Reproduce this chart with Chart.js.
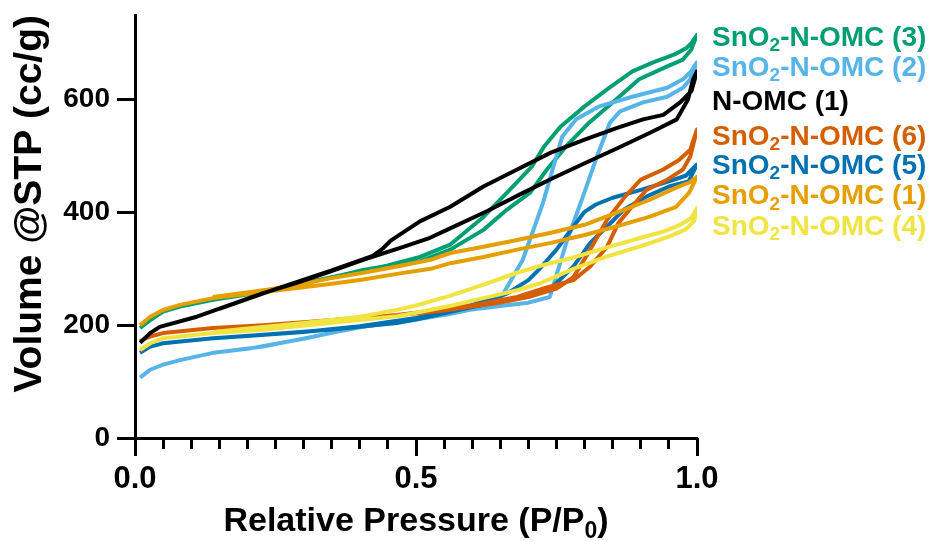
<!DOCTYPE html>
<html>
<head>
<meta charset="utf-8">
<script src="https://cdn.jsdelivr.net/npm/chart.js@4.4.1/dist/chart.umd.min.js"></script>
<style>
  html, body { margin: 0; padding: 0; background: #fff; }
  canvas { display: block; }
</style>
</head>
<body>
<canvas id="iso" width="933" height="541"></canvas>
<script>
// N2 isotherms, adsorption branch (low -> high P/P0) then desorption branch (back down)
var omc1AdsP = [0.009,0.027,0.044,0.11,0.169,0.228,0.288,0.347,0.406,0.472,0.525,0.555,0.626,0.685,0.744,0.804,0.863,0.922,0.964,0.984,0.993,1.0];
var omc1AdsV = [169,186,197,215,236,257,275,295,316,337,355,369,402,432,461,489,516,544,565,600,636,650];
var omc1DesP = [0.99,0.97,0.94,0.904,0.858,0.8,0.74,0.68,0.62,0.561,0.507,0.484,0.455,0.441,0.423,0.35,0.25,0.15];
var omc1DesV = [615,595,573,565,550,529,506,476,446,410,384,369,350,336,323,297,264,229];

var sn3AdsP = [0.009,0.027,0.05,0.08,0.139,0.228,0.288,0.347,0.406,0.466,0.507,0.561,0.62,0.662,0.703,0.733,0.767,0.808,0.856,0.897,0.947,0.975,0.99,1.0];
var sn3AdsV = [195,209,224,233,245,259,272,284,298,308,313,334,369,405,435,476,517,559,600,636,659,671,689,715];
var sn3DesP = [0.99,0.982,0.96,0.922,0.885,0.84,0.8,0.757,0.728,0.706,0.662,0.62,0.561,0.507,0.45,0.35,0.25,0.15];
var sn3DesV = [700,692,680,666,650,618,588,552,517,481,435,392,343,321,306,285,264,247];

var sn2AdsP = [0.009,0.027,0.05,0.08,0.139,0.228,0.288,0.347,0.406,0.466,0.5,0.56,0.6,0.65,0.7,0.738,0.769,0.797,0.822,0.845,0.863,0.904,0.947,0.975,0.988,1.0];
var sn2AdsV = [107,121,130,138,151,162,174,186,197,206,210,220,228,234,240,250,351,428,499,559,579,595,605,621,636,666];
var sn2DesP = [0.988,0.975,0.947,0.885,0.826,0.785,0.76,0.743,0.726,0.69,0.649,0.62,0.56,0.5,0.4,0.3,0.2,0.14];
var sn2DesV = [648,636,621,605,588,565,534,476,417,316,245,233,221,211,197,176,158,151];

var sn6AdsP = [0.009,0.027,0.05,0.139,0.228,0.347,0.466,0.5,0.6,0.68,0.73,0.78,0.81,0.84,0.86,0.884,0.91,0.947,0.975,0.988,1.0];
var sn6AdsV = [172,180,186,195,200,209,218,222,235,250,266,280,304,339,381,410,440,458,476,499,547];
var sn6DesP = [0.988,0.968,0.94,0.9,0.872,0.84,0.81,0.78,0.75,0.7,0.65,0.55,0.45,0.35,0.25,0.14];
var sn6DesV = [511,493,476,458,428,387,334,285,265,250,240,226,216,209,200,195];

var sn5AdsP = [0.009,0.027,0.05,0.139,0.228,0.347,0.466,0.5,0.6,0.7,0.74,0.78,0.81,0.84,0.87,0.91,0.95,0.985,1.0];
var sn5AdsV = [151,162,168,177,183,192,204,210,232,252,265,304,346,375,405,428,446,455,485];
var sn5DesP = [0.98,0.94,0.9,0.85,0.82,0.8,0.78,0.75,0.72,0.7,0.66,0.6,0.5,0.4,0.3,0.2,0.14];
var sn5DesV = [465,452,440,426,414,401,375,334,300,280,255,236,213,198,188,181,177];

var sn1AdsP = [0.009,0.027,0.05,0.08,0.139,0.228,0.288,0.347,0.406,0.466,0.526,0.561,0.62,0.68,0.74,0.8,0.856,0.915,0.963,0.986,1.0];
var sn1AdsV = [200,215,227,236,248,259,266,273,281,291,300,310,321,334,346,360,375,392,410,435,463];
var sn1DesP = [0.986,0.963,0.915,0.856,0.8,0.74,0.68,0.62,0.561,0.526,0.466,0.406,0.347,0.288,0.228,0.139];
var sn1DesV = [453,444,422,399,378,364,351,339,328,316,304,293,283,271,262,250];

var sn4AdsP = [0.009,0.027,0.05,0.139,0.228,0.347,0.466,0.5,0.56,0.62,0.68,0.72,0.78,0.84,0.9,0.95,0.98,0.995,1.0];
var sn4AdsV = [156,168,177,186,192,204,216,222,234,248,262,274,300,322,340,357,370,385,408];
var sn4DesP = [0.99,0.97,0.94,0.9,0.84,0.78,0.72,0.68,0.62,0.56,0.5,0.47,0.4,0.3,0.2,0.14];
var sn4DesV = [390,378,366,355,338,320,305,293,272,252,235,228,215,204,194,188];

// labels on the right, top to bottom, with the volume they sit at
var seriesNames = ['SnO2-N-OMC (3)','SnO2-N-OMC (2)','N-OMC (1)','SnO2-N-OMC (6)','SnO2-N-OMC (5)','SnO2-N-OMC (1)','SnO2-N-OMC (4)'];
var seriesColors = ['#009E73','#56B4E9','#000000','#D55E00','#0072B2','#E69F00','#F0E442'];
var labelAt = [709,656,596,534,482,428,374];

var xTicks = [0, 0.5, 1.0];
var xMinor = [0.05,0.1,0.15,0.2,0.25,0.3,0.35,0.4,0.45,0.55,0.6,0.65,0.7,0.75,0.8,0.85,0.9,0.95];
var yTicks = [0, 200, 400, 600];

var FONT = "'Liberation Sans', Arial, Helvetica, sans-serif";

function loop(aP, aV, dP, dV) {
    var pts = [];
    var p = aP.concat(dP), v = aV.concat(dV);
    for (var i = 0; i < p.length; i++) {
        pts.push({x: p[i], y: v[i]});
    }
    return pts;
}

var loops = [
    loop(sn3AdsP, sn3AdsV, sn3DesP, sn3DesV),
    loop(sn2AdsP, sn2AdsV, sn2DesP, sn2DesV),
    loop(omc1AdsP, omc1AdsV, omc1DesP, omc1DesV),
    loop(sn6AdsP, sn6AdsV, sn6DesP, sn6DesV),
    loop(sn5AdsP, sn5AdsV, sn5DesP, sn5DesV),
    loop(sn1AdsP, sn1AdsV, sn1DesP, sn1DesV),
    loop(sn4AdsP, sn4AdsV, sn4DesP, sn4DesV)
];
// draw order: lower = drawn later (on top)
var drawOrder = [6, 5, 0, 3, 4, 1, 2];

var datasets = loops.map(function (pts, i) {
    return {
        label: seriesNames[i],
        data: pts,
        showLine: true,
        borderColor: seriesColors[i],
        backgroundColor: seriesColors[i],
        borderWidth: 4,
        borderJoinStyle: 'round',
        pointRadius: 0,
        tension: 0,
        fill: false,
        order: drawOrder[i]
    };
});

// text with a subscript part: [normal, sub, normal]
function drawParts(ctx, parts, x, y, size, subSize, drop) {
    parts.forEach(function (s, j) {
        var sub = (parts.length === 3 && j === 1);
        ctx.font = 'bold ' + (sub ? subSize : size) + 'px ' + FONT;
        ctx.fillText(s, x, sub ? y + drop : y);
        x += ctx.measureText(s).width;
    });
}

function partsWidth(ctx, parts, size, subSize) {
    var w = 0;
    parts.forEach(function (s, j) {
        var sub = (parts.length === 3 && j === 1);
        ctx.font = 'bold ' + (sub ? subSize : size) + 'px ' + FONT;
        w += ctx.measureText(s).width;
    });
    return w;
}

var sideLabels = {
    id: 'sideLabels',
    afterDraw: function (chart) {
        var ctx = chart.ctx;
        var y = chart.scales.y;
        var x0 = chart.chartArea.right + 15;
        ctx.save();
        ctx.textBaseline = 'middle';
        ctx.textAlign = 'left';
        seriesNames.forEach(function (name, i) {
            var py = y.getPixelForValue(labelAt[i]);
            var k = name.indexOf('O2');
            var parts = k < 0 ? [name] : [name.slice(0, k + 1), '2', name.slice(k + 2)];
            ctx.fillStyle = seriesColors[i];
            drawParts(ctx, parts, x0, py, 28, 19, 8);
        });
        ctx.restore();
    }
};

// x title with subscript, ticks (major + minor) as filled bars
var axisExtras = {
    id: 'axisExtras',
    afterDraw: function (chart) {
        var ctx = chart.ctx;
        var xs = chart.scales.x, ys = chart.scales.y;
        var a = chart.chartArea;
        ctx.save();
        ctx.fillStyle = '#000';
        xTicks.forEach(function (v) {
            var px = xs.getPixelForValue(v);
            ctx.fillRect(Math.round(px - 1.5), a.bottom, 3, 18);
        });
        xMinor.forEach(function (v) {
            var px = xs.getPixelForValue(v);
            ctx.fillRect(Math.round(px - 1.5), a.bottom, 3, 11);
        });
        yTicks.forEach(function (v) {
            var py = ys.getPixelForValue(v);
            ctx.fillRect(a.left - 18, Math.round(py - 1.5), 18, 3);
        });

        var parts = ['Relative Pressure (P/P', '0', ')'];
        var w = partsWidth(ctx, parts, 34, 23);
        ctx.textBaseline = 'alphabetic';
        ctx.textAlign = 'left';
        drawParts(ctx, parts, (a.left + a.right) / 2 - w / 2, 531, 34, 23, 7);
        ctx.restore();
    }
};

Chart.defaults.font.family = FONT;
Chart.defaults.color = '#000';

new Chart(document.getElementById('iso'), {
    type: 'scatter',
    data: { datasets: datasets },
    options: {
        responsive: false,
        animation: false,
        devicePixelRatio: 1,
        layout: { padding: { top: 15, right: 236, left: 0, bottom: 0 } },
        plugins: {
            legend: { display: false },
            tooltip: { enabled: false }
        },
        scales: {
            x: {
                type: 'linear',
                min: 0,
                max: 1,
                afterFit: function (s) {
                    s.height = 103;
                    s.paddingLeft = 0;
                    s.paddingRight = 0;
                },
                afterBuildTicks: function (s) {
                    s.ticks = xTicks.map(function (v) { return {value: v}; });
                },
                ticks: {
                    padding: 23,
                    font: { size: 31, weight: 'bold' },
                    color: '#000',
                    callback: function (v) { return Number(v).toFixed(1); }
                },
                grid: { display: false, drawTicks: false },
                border: { color: '#000', width: 3 }
            },
            y: {
                min: 0,
                max: 750,
                afterFit: function (s) {
                    s.width = 135;
                    s.paddingTop = 0;
                    s.paddingBottom = 0;
                },
                afterBuildTicks: function (s) {
                    s.ticks = yTicks.map(function (v) { return {value: v}; });
                },
                ticks: {
                    padding: 25,
                    font: { size: 28, weight: 'bold' },
                    color: '#000'
                },
                grid: { display: false, drawTicks: false },
                border: { color: '#000', width: 3 },
                title: {
                    display: true,
                    align: 'end',
                    text: 'Volume @STP (cc/g)',
                    color: '#000',
                    font: { size: 39, weight: 'bold', lineHeight: 1 },
                    padding: { top: 11, bottom: 0 }
                }
            }
        }
    },
    plugins: [axisExtras, sideLabels]
});
</script>
</body>
</html>
